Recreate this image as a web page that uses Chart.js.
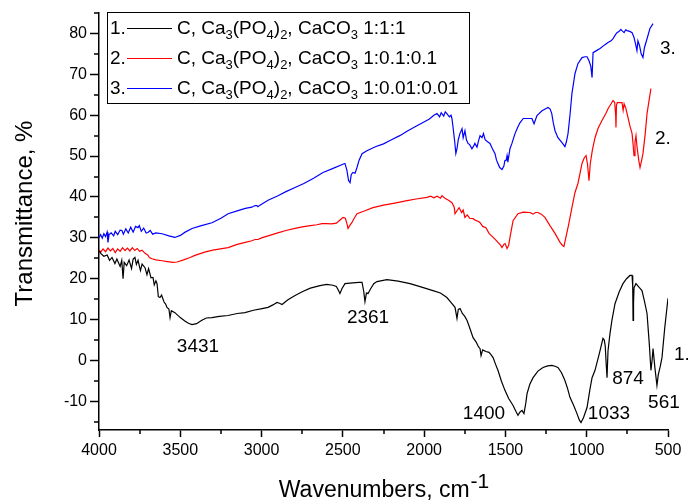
<!DOCTYPE html>
<html>
<head>
<meta charset="utf-8">
<script src="https://cdn.jsdelivr.net/npm/chart.js@4.4.1/dist/chart.umd.min.js"></script>
<style>
  html, body { margin: 0; padding: 0; background: #fff; }
  #wrap { width: 688px; height: 504px; }
</style>
</head>
<body>
<div id="wrap"><canvas id="chart" width="688" height="504"></canvas></div>
<script>
// 1. C, Ca3(PO4)2, CaCO3 1:1:1
var wn1 = [4000,3985,3970,3950,3935,3920,3902,3890,3870,3860,3852,3845,3830,3815,3800,3790,3779,3770,3760,3745,3735,3717,3705,3695,3680,3668,3660,3650,3643,3635,3625,3615,3600,3590,3582,3570,3563,3555,3533,3500,3470,3450,3428,3400,3370,3340,3305,3260,3206,3150,3102,3050,2997,2960,2930,2905,2890,2874,2840,2794,2750,2700,2641,2600,2561,2540,2525,2518,2505,2487,2440,2400,2382,2372,2364,2355,2345,2330,2310,2290,2229,2160,2087,2020,1946,1900,1860,1830,1810,1798,1790,1779,1765,1750,1736,1720,1699,1680,1665,1656,1650,1640,1620,1601,1590,1576,1560,1546,1525,1503,1480,1453,1435,1423,1410,1398,1386,1375,1367,1350,1330,1300,1269,1240,1214,1195,1177,1155,1134,1118,1103,1080,1060,1045,1035,1020,998,980,967,955,949,930,918,900,892,886,880,875,869,857,845,826,800,777,755,734,721,717,715,712,709,697,680,660,645,629,615,605,598,592,580,568,560,548,537,520,500];
var t1 = [26.8,26.0,25.5,25.8,24.5,25.2,23.7,24.8,23.0,24.5,20.0,24.0,23.2,24.6,22.5,24.8,25.2,23.5,24.5,22.0,23.6,22.7,21.0,22.5,20.2,20.3,18.5,19.5,18.8,15.6,15.4,16.0,14.3,13.8,13.0,12.6,10.5,12.2,11.7,10.5,9.6,9.1,8.8,9.0,9.8,10.4,10.5,10.8,11.0,11.5,11.7,12.3,12.7,13.0,13.6,14.2,14.0,13.7,14.8,15.9,16.8,17.7,18.3,18.6,18.4,18.1,17.0,16.4,17.6,18.8,19.0,19.1,19.1,17.0,14.4,16.5,16.4,17.5,18.8,19.3,19.8,19.4,18.8,18.0,17.1,16.5,15.4,14.0,13.0,10.3,12.5,12.7,11.5,10.8,9.8,8.0,5.6,4.5,3.3,2.9,1.2,2.6,2.2,2.0,1.5,0.7,-1.0,-2.4,-5.0,-7.3,-9.3,-11.0,-12.5,-13.4,-12.6,-12.2,-13.0,-10.5,-8.1,-5.8,-4.2,-2.6,-1.7,-1.3,-1.2,-1.4,-1.7,-3.0,-4.9,-6.8,-9.0,-11.0,-13.0,-14.6,-15.2,-14.0,-11.5,-7.0,-4.2,-3.0,-2.4,0.5,2.4,5.4,5.0,3.5,-1.0,-4.2,2.4,6.5,9.8,13.9,16.8,18.8,20.0,20.8,20.8,18.0,9.8,14.0,17.8,18.8,18.0,17.1,14.5,11.5,4.0,-2.4,0.0,2.9,-2.0,-6.1,-3.5,-1.5,0.7,8.0,15.2];

// 2. C, Ca3(PO4)2, CaCO3 1:0.1:0.1
var wn2 = [4000,3990,3975,3960,3945,3930,3915,3900,3885,3870,3855,3840,3825,3810,3795,3780,3765,3750,3735,3717,3700,3690,3674,3650,3612,3580,3545,3520,3480,3440,3410,3350,3300,3206,3150,3100,3060,3040,3022,3000,2950,2900,2850,2794,2750,2700,2660,2628,2600,2570,2540,2510,2499,2485,2475,2468,2458,2445,2430,2413,2360,2315,2250,2180,2105,2050,1983,1960,1940,1920,1900,1890,1870,1850,1829,1815,1810,1800,1785,1770,1760,1749,1735,1720,1699,1680,1665,1656,1640,1620,1601,1580,1560,1546,1530,1521,1510,1502,1490,1480,1472,1453,1423,1390,1349,1330,1315,1300,1280,1257,1226,1195,1164,1150,1140,1128,1110,1091,1072,1054,1040,1029,1015,1004,995,986,978,965,949,930,906,880,869,850,838,828,822,820,817,812,790,783,776,770,760,746,735,721,715,709,703,697,690,680,672,662,654,640,629,615,605];
var t2 = [27.1,26.5,27.3,26.6,27.5,26.8,27.4,26.4,27.3,26.7,27.6,26.9,27.5,26.8,27.6,26.9,27.4,26.7,27.0,26.2,25.8,25.2,24.9,24.6,24.4,24.2,24.0,24.1,24.6,25.2,25.7,26.5,27.0,27.6,28.4,28.9,29.3,29.6,29.6,30.0,30.6,31.2,31.8,32.3,32.7,33.0,33.2,33.5,33.5,33.4,33.6,34.6,35.0,34.8,33.5,32.3,33.0,33.7,34.8,35.9,36.7,37.4,38.0,38.5,39.1,39.5,39.9,40.2,39.8,40.2,39.7,40.3,39.6,39.2,38.6,37.5,35.9,36.5,37.4,36.2,36.8,35.0,35.6,34.8,34.7,34.2,34.0,33.7,32.8,32.5,31.1,30.3,29.5,28.9,28.2,27.6,28.4,28.6,27.4,28.2,30.1,34.2,35.9,36.3,36.2,35.8,36.2,36.2,35.8,35.0,33.0,31.1,28.9,28.2,27.9,30.1,33.5,37.4,41.1,43.3,46.0,48.2,49.6,50.1,48.0,44.0,48.2,51.5,54.5,56.8,58.7,60.6,61.6,62.8,63.6,63.1,60.0,57.0,62.5,63.1,63.1,63.1,61.2,62.8,61.8,59.4,57.5,55.5,53.0,50.1,53.5,55.0,52.1,49.0,47.2,49.0,50.6,55.5,60.4,64.0,66.5];

// 3. C, Ca3(PO4)2, CaCO3 1:0.01:0.01
var wn3 = [4000,3990,3980,3970,3960,3950,3945,3938,3925,3910,3900,3885,3870,3859,3850,3835,3820,3805,3790,3775,3760,3752,3740,3725,3710,3699,3685,3670,3650,3612,3570,3533,3500,3470,3428,3370,3305,3250,3206,3150,3100,3060,3040,3029,3022,3010,2960,2899,2850,2794,2740,2680,2622,2560,2500,2487,2475,2465,2456,2448,2438,2425,2413,2400,2382,2352,2300,2250,2210,2150,2100,2050,2007,1970,1940,1921,1905,1895,1880,1870,1860,1845,1835,1829,1822,1812,1805,1798,1790,1780,1767,1760,1749,1740,1730,1720,1706,1695,1688,1675,1665,1656,1644,1635,1625,1610,1595,1580,1564,1555,1546,1535,1521,1510,1503,1495,1490,1485,1472,1460,1441,1425,1410,1390,1360,1337,1324,1306,1275,1238,1225,1215,1205,1195,1177,1152,1134,1125,1115,1103,1091,1072,1054,1029,1010,998,986,975,967,961,940,918,890,869,850,838,825,814,800,790,783,770,760,752,735,721,709,700,691,685,675,665,654,645,629,611,592];
var t3 = [30.0,30.8,29.9,31.0,30.3,31.4,28.9,30.8,31.2,30.5,31.6,30.8,31.9,31.8,30.9,32.2,31.2,32.6,31.4,32.8,32.5,33.0,31.6,32.4,31.2,31.3,31.8,30.9,31.2,31.0,30.5,30.1,30.6,31.4,32.3,33.0,33.7,34.8,35.9,36.6,37.2,37.5,37.9,37.9,37.6,38.0,39.2,40.3,41.3,42.3,43.3,44.6,46.0,47.0,48.0,48.2,46.5,44.0,43.5,45.5,46.0,45.8,47.2,49.0,50.6,51.3,52.3,53.0,53.8,55.0,56.2,57.3,58.2,59.0,60.0,60.4,59.6,60.6,59.8,60.8,60.4,59.6,60.0,59.2,57.0,53.5,50.6,51.8,54.0,55.5,56.7,54.5,56.2,54.0,53.1,52.8,51.8,52.5,53.1,52.2,53.8,55.0,54.5,55.5,54.0,53.5,53.1,51.8,50.6,49.0,48.2,47.2,46.7,47.5,48.9,49.0,50.1,48.5,51.8,53.1,55.5,57.0,58.2,59.2,59.2,59.2,57.9,59.9,61.1,61.9,61.5,60.4,58.0,56.2,54.5,53.3,52.3,53.5,55.5,60.0,65.3,70.2,72.6,74.1,74.3,74.3,73.3,72.0,69.2,75.3,75.8,76.3,77.2,77.8,78.2,78.7,79.6,80.2,80.5,81.0,80.7,80.2,80.9,80.7,80.5,80.2,79.0,77.5,75.8,78.2,77.0,75.0,74.1,76.5,78.7,81.2,82.4];

var seriesNums = ['1.', '2.', '3.'];
var ratios = ['1:1:1', '1:0.1:0.1', '1:0.01:0.01'];
var colors = ['#000000', '#ff0000', '#0000ff'];

// peak labels, placed in data units (wavenumber, transmittance)
var peakText = ['3431', '2361', '1400', '1033', '874', '561'];
var peakX = [3391, 2345, 1632, 863, 746, 525];
var peakY = [3.4, 10.5, -13.0, -13.0, -4.4, -10.3];
// curve numbers at the right end
var curveX = [463, 580, 549];
var curveY = [1.5, 54.3, 76.3];

var xMajor = [500, 1000, 1500, 2000, 2500, 3000, 3500, 4000];
var xMinor = [750, 1250, 1750, 2250, 2750, 3250, 3750];
var yMinor = [-15, -5, 5, 15, 25, 35, 45, 55, 65, 75, 85];

var FONT = 'Arial, "Liberation Sans", sans-serif';

function pts(xs, ys) {
    return xs.map(function (x, i) { return { x: x, y: ys[i] }; });
}

var decor = {
    id: 'decor',
    afterDraw: function (chart) {
        var ctx = chart.ctx;
        var xs = chart.scales.x, ys = chart.scales.y;
        var area = chart.chartArea;
        ctx.save();

        // minor ticks
        ctx.strokeStyle = '#000';
        ctx.lineWidth = 1.5;
        ctx.beginPath();
        xMinor.forEach(function (v) {
            var px = Math.round(xs.getPixelForValue(v));
            ctx.moveTo(px, area.bottom);
            ctx.lineTo(px, area.bottom + 4);
        });
        yMinor.forEach(function (v) {
            var py = Math.round(ys.getPixelForValue(v));
            ctx.moveTo(area.left, py);
            ctx.lineTo(area.left - 5, py);
        });
        ctx.stroke();

        ctx.fillStyle = '#000';

        // y title
        ctx.save();
        ctx.translate(32, (area.top + area.bottom) / 2 - 8);
        ctx.rotate(-Math.PI / 2);
        ctx.font = '24px ' + FONT;
        ctx.textAlign = 'center';
        ctx.textBaseline = 'alphabetic';
        ctx.fillText('Transmittance, %', 0, 0);
        ctx.restore();

        // x title with superscript
        ctx.font = '23px ' + FONT;
        var main = 'Wavenumbers, cm';
        var w1 = ctx.measureText(main).width;
        ctx.font = '21px ' + FONT;
        var w2 = ctx.measureText('-1').width;
        var x0 = (area.left + area.right) / 2 - (w1 + w2) / 2;
        ctx.textAlign = 'left';
        ctx.textBaseline = 'alphabetic';
        ctx.font = '23px ' + FONT;
        ctx.fillText(main, x0, 497);
        ctx.font = '21px ' + FONT;
        ctx.fillText('-1', x0 + w1 + 1, 488);

        // legend
        var lx = area.left + 8, ly = 12;
        ctx.lineWidth = 1;
        ctx.strokeStyle = '#000';
        ctx.strokeRect(lx + 0.5, ly + 0.5, 362, 91);
        for (var i = 0; i < 3; i++) {
            var cy = ly + 15 + i * 30;
            var base = cy + 7;
            ctx.font = '19px ' + FONT;
            ctx.fillStyle = '#000';
            ctx.fillText(seriesNums[i], lx + 3, base);
            ctx.strokeStyle = colors[i];
            ctx.lineWidth = 1;
            ctx.beginPath();
            ctx.moveTo(lx + 20, cy + 1.5);
            ctx.lineTo(lx + 65, cy + 1.5);
            ctx.stroke();
            var parts = [['C, Ca', 0], ['3', 1], ['(PO', 0], ['4', 1], [')', 0], ['2', 1], [', CaCO', 0], ['3', 1], [' ' + ratios[i], 0]];
            var tx = lx + 70;
            parts.forEach(function (p) {
                ctx.font = (p[1] ? '13px ' : '19px ') + FONT;
                ctx.fillText(p[0], tx, base + (p[1] ? 5 : 0));
                tx += ctx.measureText(p[0]).width;
            });
        }

        // peak labels
        ctx.font = '19px ' + FONT;
        ctx.textAlign = 'center';
        ctx.textBaseline = 'middle';
        peakText.forEach(function (t, i) {
            ctx.fillText(t, xs.getPixelForValue(peakX[i]), ys.getPixelForValue(peakY[i]));
        });
        ctx.textAlign = 'left';
        seriesNums.forEach(function (t, i) {
            ctx.fillText(t, xs.getPixelForValue(curveX[i]), ys.getPixelForValue(curveY[i]));
        });

        ctx.restore();
    }
};

var chartCanvas = document.getElementById('chart');
var ctx = chartCanvas.getContext('2d');
chartCanvas.chart = new Chart(ctx, {
    type: 'line',
    data: {
        datasets: [
            { label: seriesNums[0] + ' ' + ratios[0], data: pts(wn1, t1), borderColor: colors[0], borderWidth: 1.2, pointRadius: 0, tension: 0 },
            { label: seriesNums[1] + ' ' + ratios[1], data: pts(wn2, t2), borderColor: colors[1], borderWidth: 1.2, pointRadius: 0, tension: 0 },
            { label: seriesNums[2] + ' ' + ratios[2], data: pts(wn3, t3), borderColor: colors[2], borderWidth: 1.2, pointRadius: 0, tension: 0 }
        ]
    },
    options: {
        responsive: false,
        animation: false,
        devicePixelRatio: 1,
        layout: { padding: { top: 13, right: 20, left: 0, bottom: 0 } },
        plugins: {
            legend: { display: false },
            tooltip: { enabled: false }
        },
        scales: {
            x: {
                type: 'linear',
                reverse: true,
                min: 500,
                max: 4000,
                afterFit: function (scale) { scale.height = 74; },
                afterBuildTicks: function (scale) {
                    scale.ticks = xMajor.map(function (v) { return { value: v }; });
                },
                ticks: {
                    font: { family: FONT, size: 16 },
                    color: '#000',
                    padding: 4,
                    maxRotation: 0,
                    autoSkip: false,
                    callback: function (v) { return String(v); }
                },
                grid: { drawOnChartArea: false, tickLength: 7, tickWidth: 1.5, tickColor: '#000' },
                border: { color: '#000', width: 1.5 }
            },
            y: {
                min: -17,
                max: 85,
                afterFit: function (scale) { scale.width = 99; },
                ticks: {
                    stepSize: 10,
                    includeBounds: false,
                    font: { family: FONT, size: 16 },
                    color: '#000',
                    padding: 3,
                    callback: function (v) { return String(v); }
                },
                grid: { drawOnChartArea: false, tickLength: 9, tickWidth: 1.5, tickColor: '#000' },
                border: { color: '#000', width: 1.5 }
            }
        }
    },
    plugins: [decor]
});
</script>
</body>
</html>
